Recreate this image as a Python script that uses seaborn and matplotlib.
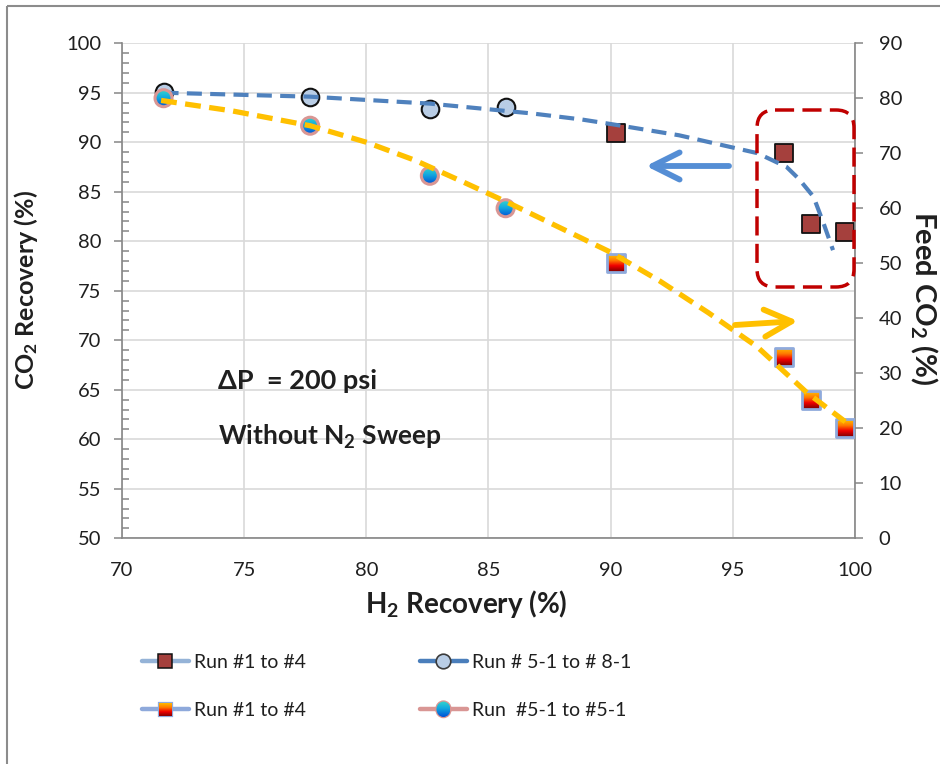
import numpy as np
import matplotlib
matplotlib.use("Agg")
import matplotlib.pyplot as plt
import seaborn as sns
from matplotlib.patches import Rectangle, Ellipse, FancyBboxPatch
from matplotlib.lines import Line2D
from matplotlib.ticker import MultipleLocator
from matplotlib.colors import LinearSegmentedColormap

# ---------------- data ----------------
h2_runs_1_4 = [90.2, 97.1, 98.2, 99.6]
co2_rec_runs_1_4 = [90.9, 88.9, 81.7, 80.9]
feed_co2_runs_1_4 = [50.0, 33.0, 25.1, 20.0]

h2_runs_5_8 = [71.7, 77.7, 82.6, 85.7]
co2_rec_runs_5_8 = [95.1, 94.6, 93.4, 93.6]
feed_co2_runs_5_8 = [80.0, 75.0, 65.9, 60.0]

# dashed trend curves
trend_rec_x = [71.7, 77.7, 82.6, 84.7, 86.8, 88.8, 90.1, 92.8, 96.0, 97.2, 97.7, 98.3, 98.7, 99.1]
trend_rec_y = [95.0, 94.6, 93.9, 93.4, 92.9, 92.3, 91.8, 90.7, 88.9, 87.5, 86.3, 84.5, 81.9, 79.1]
trend_feed_x = [71.6, 74.5, 77.7, 80.0, 82.0, 84.0, 86.0, 88.0, 90.0, 92.0, 94.0, 96.0, 98.0, 99.6]
trend_feed_y = [79.6, 77.7, 75.0, 72.0, 68.7, 64.7, 60.6, 56.3, 52.0, 46.8, 41.0, 34.8, 26.6, 21.2]

legend_labels = ["Run #1 to #4", "Run # 5-1 to # 8-1", "Run #1 to #4", "Run  #5-1 to #5-1"]
x_ticks = [70, 75, 80, 85, 90, 95, 100]
left_ticks = [50, 55, 60, 65, 70, 75, 80, 85, 90, 95, 100]
right_ticks = [0, 10, 20, 30, 40, 50, 60, 70, 80, 90]

# ---------------- style ----------------
sns.set_theme(style="white")
plt.rcParams["font.family"] = ["Lato", "DejaVu Sans"]
plt.rcParams["mathtext.fontset"] = "custom"
plt.rcParams["mathtext.rm"] = "Lato"
plt.rcParams["mathtext.bf"] = "Lato:bold"
plt.rcParams["mathtext.it"] = "Lato:italic"
plt.rcParams["mathtext.default"] = "regular"

W, H = 940, 764
SPINE = "#868686"
TXT = "#1f1f1f"
fig = plt.figure(figsize=(W / 100, H / 100), dpi=100)
fig.patch.set_facecolor("white")

ax_l, ax_r, ax_t, ax_b = 122, 855, 43.2, 538.3
ax = fig.add_axes([ax_l / W, 1 - ax_b / H, (ax_r - ax_l) / W, (ax_b - ax_t) / H])
ax2 = ax.twinx()

ax.set_xlim(70, 100)
ax.set_ylim(50, 100)
ax2.set_ylim(0, 90)
ax.set_xticks(x_ticks)
ax.set_yticks(left_ticks)
ax2.set_yticks(right_ticks)
ax.xaxis.set_minor_locator(MultipleLocator(1))
ax.yaxis.set_minor_locator(MultipleLocator(1))

ax.grid(True, which="major", color="#D9D9D9", lw=1.2)
ax.set_axisbelow(True)

for a in (ax, ax2):
    a.spines["top"].set_visible(False)
    for s in ("left", "right", "bottom"):
        a.spines[s].set_color(SPINE)
        a.spines[s].set_linewidth(1.2)
ax.spines["right"].set_visible(False)
ax2.spines["left"].set_visible(False)
ax2.spines["bottom"].set_visible(False)

ax.tick_params(axis="both", which="major", direction="out", length=6, width=1.1,
               color=SPINE, labelsize=14.5, labelcolor=TXT)
ax.tick_params(axis="y", which="major", pad=9, right=False)
ax.tick_params(axis="x", which="major", pad=11)
ax.tick_params(axis="both", which="minor", direction="in", length=5, width=1.1, color=SPINE)
ax.tick_params(axis="y", which="minor", right=False)
ax.tick_params(axis="x", which="minor", top=False)
ax2.tick_params(axis="y", which="major", direction="out", length=6, width=1.1, color=SPINE,
                labelsize=14.5, labelcolor=TXT, pad=11)
ax2.tick_params(axis="y", which="minor", length=0)

# ---------------- left-axis series ----------------
sns.scatterplot(x=h2_runs_1_4, y=co2_rec_runs_1_4, ax=ax, marker="s", s=180,
                color="#A5403D", edgecolor="#111111", linewidth=1.3, zorder=3, legend=False)
sns.scatterplot(x=h2_runs_5_8, y=co2_rec_runs_5_8, ax=ax, marker="o", s=160,
                color="#B9CDE5", edgecolor="#111111", linewidth=1.5, zorder=3, legend=False)
sns.lineplot(x=trend_rec_x, y=trend_rec_y, ax=ax, color="#4F81BD", linewidth=3.0,
             sort=False, estimator=None, zorder=4, legend=False)
ax.lines[-1].set_linestyle((0, (3.6, 2.0)))
ax.lines[-1].set_solid_capstyle("butt")

# ---------------- right-axis series (gradient markers) ----------------
sq_cmap = LinearSegmentedColormap.from_list(
    "sq", [(0, "#FFC400"), (0.35, "#FF7A00"), (0.65, "#F00000"), (1, "#7A0000")])
cy_cmap = LinearSegmentedColormap.from_list(
    "cy", [(0, "#33D6CC"), (0.45, "#12A8DF"), (1, "#0052D6")])
GRAD = np.linspace(0, 1, 64).reshape(-1, 1)


def grad_fill(axis, xd, yd, size_px, shape, cmap, z):
    cx, cy = axis.transData.transform((xd, yd))
    h = size_px / 2.0
    inv = axis.transData.inverted()
    x0, y0 = inv.transform((cx - h, cy - h))
    x1, y1 = inv.transform((cx + h, cy + h))
    if shape == "s":
        clip = Rectangle((x0, y0), x1 - x0, y1 - y0, transform=axis.transData)
    else:
        clip = Ellipse((xd, yd), x1 - x0, y1 - y0, transform=axis.transData)
    im = axis.imshow(GRAD, cmap=cmap, extent=(x0, x1, y0, y1), origin="upper",
                     aspect="auto", interpolation="bilinear", zorder=z)
    im.set_clip_path(clip)


for xv, yv in zip(h2_runs_1_4, feed_co2_runs_1_4):
    grad_fill(ax2, xv, yv, 18, "s", sq_cmap, 3)
for xv, yv in zip(h2_runs_5_8, feed_co2_runs_5_8):
    grad_fill(ax2, xv, yv, 17, "o", cy_cmap, 3)

sns.scatterplot(x=h2_runs_1_4, y=feed_co2_runs_1_4, ax=ax2, marker="s", s=168,
                color="#8FAADC", edgecolor="#8FAADC", linewidth=2.0, zorder=3.5, legend=False)
ax2.collections[-1].set_facecolor("none")
sns.scatterplot(x=h2_runs_5_8, y=feed_co2_runs_5_8, ax=ax2, marker="o", s=150,
                color="#D99694", edgecolor="#D99694", linewidth=2.2, zorder=3.5, legend=False)
ax2.collections[-1].set_facecolor("none")

sns.lineplot(x=trend_feed_x, y=trend_feed_y, ax=ax2, color="#FFC000", linewidth=3.8,
             sort=False, estimator=None, zorder=4, legend=False)
ax2.lines[-1].set_linestyle((0, (3.0, 1.6)))

ax.set_xlim(70, 100)
ax.set_ylim(50, 100)
ax2.set_ylim(0, 90)

# ---------------- labels ----------------
ax.set_xlabel(r"H$_\mathbf{2}$ Recovery (%)", fontsize=20, fontweight="bold", color=TXT)
ax.xaxis.label.set_va("center")
ax.xaxis.set_label_coords((466 - ax_l) / (ax_r - ax_l), -(604 - ax_b) / (ax_b - ax_t))
ax.set_ylabel(r"CO$_\mathbf{2}$ Recovery (%)", fontsize=18, fontweight="bold", color=TXT)
ax.yaxis.label.set_va("center")
ax.yaxis.set_label_coords((26 - ax_l) / (ax_r - ax_l), (ax_b - 290) / (ax_b - ax_t))
ax2.set_ylabel(r"Feed CO$_\mathbf{2}$ (%)", fontsize=21, fontweight="bold", color=TXT,
               rotation=270)
ax2.yaxis.label.set_va("center")
ax2.yaxis.set_label_coords((924 - ax_l) / (ax_r - ax_l), (ax_b - 298) / (ax_b - ax_t))

fig.text(218 / W, 1 - 381 / H, "ΔP  = 200 psi", fontsize=19.5, fontweight="bold",
         color=TXT, ha="left", va="center")
fig.text(218 / W, 1 - 437 / H, r"Without N$_\mathbf{2}$ Sweep", fontsize=19,
         fontweight="bold", color=TXT, ha="left", va="center")

# ---------------- legend ----------------
h_red = Line2D([], [], color="#95B3D7", lw=3.2, marker="s", ms=10, mfc="#A5403D",
               mec="#111111", mew=1.1)
h_blue = Line2D([], [], color="#4A7EBB", lw=3.2, marker="o", ms=10.5, mfc="#B9CDE5",
                mec="#3B3B3B", mew=1.2)
h_grad = Line2D([], [], color="#8EA9DB", lw=3.2, marker="s", ms=10, mfc="none", mec="none")
h_cyan = Line2D([], [], color="#D99694", lw=3.2, marker="o", ms=10.5, mfc="none", mec="none")
leg = fig.legend([h_red, h_grad, h_blue, h_cyan],
                 [legend_labels[0], legend_labels[2], legend_labels[1], legend_labels[3]],
                 ncol=2, loc="upper left", bbox_to_anchor=(142 / W, 1 - 654 / H),
                 frameon=False, fontsize=14, handlelength=2.4, handletextpad=0.25,
                 columnspacing=5.9, labelspacing=1.6, borderaxespad=0, borderpad=0)
for t in leg.get_texts():
    t.set_color(TXT)

# ---------------- overlay (pixel coordinates) ----------------
ov = fig.add_axes([0, 0, 1, 1])
ov.set_xlim(0, W)
ov.set_ylim(H, 0)
ov.axis("off")
ov.patch.set_visible(False)
ov.set_zorder(10)

fig.canvas.draw()
for idx, shape, cmap, edge, size in ((1, "s", sq_cmap, "#8FAADC", 13), (3, "o", cy_cmap, "#D99694", 14)):
    hl = leg.legend_handles[idx]
    pts = hl.get_transform().transform(np.column_stack(hl.get_data()))
    cx = pts[:, 0].mean()
    cy = H - pts[:, 1].mean()
    hsz = size / 2
    if shape == "s":
        clip = Rectangle((cx - hsz, cy - hsz), size, size, transform=ov.transData)
        edgep = Rectangle((cx - hsz, cy - hsz), size, size, fill=False, ec=edge, lw=1.6)
    else:
        clip = Ellipse((cx, cy), size, size * 1.1, transform=ov.transData)
        edgep = Ellipse((cx, cy), size, size * 1.1, fill=False, ec=edge, lw=1.8)
    im = ov.imshow(GRAD, cmap=cmap, extent=(cx - hsz, cx + hsz, cy + hsz * 1.1, cy - hsz * 1.1),
                   origin="upper", aspect="auto", interpolation="bilinear", zorder=2)
    im.set_clip_path(clip)
    ov.add_patch(edgep)

ov.set_xlim(0, W)
ov.set_ylim(H, 0)

# highlight box
ov.add_patch(FancyBboxPatch((757, 110), 97, 177, boxstyle="round,pad=0,rounding_size=18",
                            fill=False, ec="#C00000", lw=2.5, ls=(0, (5.5, 2.4))))
# arrows
ov.annotate("", xy=(646, 166), xytext=(729, 166),
            arrowprops=dict(arrowstyle="->,head_length=1.3,head_width=0.65", color="#558ED5",
                            lw=4.2, shrinkA=0, shrinkB=0, mutation_scale=15,
                            capstyle="round", joinstyle="round"))
ov.annotate("", xy=(798, 321), xytext=(735, 325),
            arrowprops=dict(arrowstyle="->,head_length=1.3,head_width=0.65", color="#FFC000",
                            lw=4.2, shrinkA=0, shrinkB=0, mutation_scale=15,
                            capstyle="round", joinstyle="round"))
# outer frame
ov.add_patch(Rectangle((7, 6), W, H, fill=False, ec="#8C8C8C", lw=1.5))

fig.savefig("out.png", dpi=100, facecolor="white")
